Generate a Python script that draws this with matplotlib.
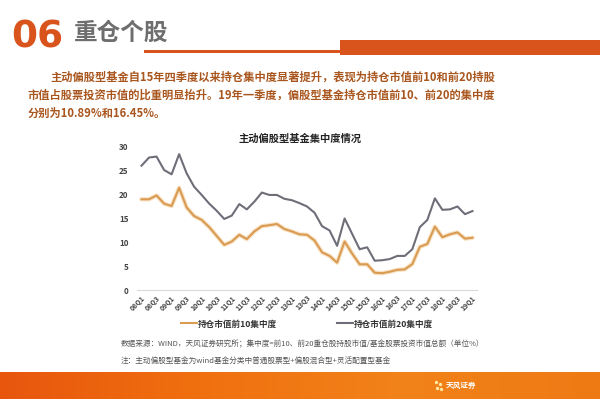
import numpy as np
import matplotlib
matplotlib.use('Agg')
import matplotlib.pyplot as plt
from matplotlib.patches import Rectangle

plt.rcParams['font.family'] = ['Noto Sans CJK SC', 'DejaVu Sans']

# 08Q1 .. 19Q1 quarterly, unit %
top10 = [18.9, 18.9, 19.7, 18.0, 17.5, 21.3, 17.2, 15.4, 14.6, 13.1,
         11.25, 9.4, 10.1, 11.5, 10.6, 12.2, 13.3, 13.5, 13.75, 12.7,
         12.2, 11.6, 11.5, 10.3, 7.85, 7.1, 5.7, 10.1, 7.6, 5.35,
         5.35, 3.6, 3.5, 3.8, 4.2, 4.3, 5.4, 9.0, 9.6, 13.2,
         11.0, 11.6, 12.0, 10.7, 10.89]
top20 = [25.9, 27.6, 27.8, 25.0, 24.1, 28.3, 24.3, 21.5, 19.8, 18.0,
         16.5, 14.8, 15.5, 17.9, 16.8, 18.4, 20.3, 19.8, 19.8, 19.0,
         18.7, 18.1, 17.4, 16.1, 13.3, 12.4, 9.2, 14.9, 11.7, 8.5,
         8.9, 6.1, 6.2, 6.45, 7.1, 7.1, 8.5, 13.1, 14.6, 19.1,
         16.7, 16.8, 17.4, 15.8, 16.45]
tick_labels = ['08Q1', '08Q3', '09Q1', '09Q3', '10Q1', '10Q3', '11Q1', '11Q3',
               '12Q1', '12Q3', '13Q1', '13Q3', '14Q1', '14Q3', '15Q1', '15Q3',
               '16Q1', '16Q3', '17Q1', '17Q3', '18Q1', '18Q3', '19Q1']
name10 = '持仓市值前10集中度'
name20 = '持仓市值前20集中度'

W, H = 600, 399
fig = plt.figure(figsize=(6, 3.99), dpi=100)
fig.patch.set_facecolor('white')

# background layer in pixel coordinates
bg = fig.add_axes([0, 0, 1, 1])
bg.set_xlim(0, W)
bg.set_ylim(H, 0)
bg.axis('off')

orange = '#D9541C'
bg.add_patch(Rectangle((144, 50), 200, 3, color=orange, lw=0))
bg.add_patch(Rectangle((340, 40), 260, 15, color=orange, lw=0))
bg.text(11, 37, '06', fontsize=27, fontweight='heavy', color=orange,
        va='center', ha='left', family='DejaVu Sans')
bg.text(74, 33, '重仓个股', fontsize=17, fontweight='bold', color='#6E6E6E',
        va='center', ha='left')

para_c = '#A9561E'
bg.text(50, 77, '主动偏股型基金自15年四季度以来持仓集中度显著提升，表现为持仓市值前10和前20持股',
        fontsize=8.1, fontweight='bold', color=para_c, va='center', ha='left')
bg.text(28, 95, '市值占股票投资市值的比重明显抬升。19年一季度，偏股型基金持仓市值前10、前20的集中度',
        fontsize=8.1, fontweight='bold', color=para_c, va='center', ha='left')
bg.text(28, 113, '分别为10.89%和16.45%。',
        fontsize=8.1, fontweight='bold', color=para_c, va='center', ha='left')

bg.text(300, 139, '主动偏股型基金集中度情况', fontsize=7.4, fontweight='bold',
        color='#222222', va='center', ha='center')

bg.text(121, 344, '数据来源：WIND，天风证券研究所；集中度=前10、前20重仓股持股市值/基金股票投资市值总额（单位%）',
        fontsize=5.5, color='#555555', va='center', ha='left')
bg.text(121, 361, '注：主动偏股型基金为wind基金分类中普通股票型+偏股混合型+灵活配置型基金',
        fontsize=5.5, color='#555555', va='center', ha='left')

# bottom gradient band
grad = np.linspace(0, 1, 256).reshape(1, -1)
cmap = matplotlib.colors.LinearSegmentedColormap.from_list(
    'band', ['#E8560E', '#F0700F', '#F2821A', '#EE7A14'])
bg.imshow(grad, extent=[0, W, H, 372], aspect='auto', cmap=cmap, zorder=0)
bg.text(446, 385, '天风证券', fontsize=5.5, color='white', fontweight='bold',
        va='center', ha='left')
bg.scatter([436, 440, 437, 441], [382, 384, 388, 389], s=6, color='#FFE9A0', lw=0)

# chart
ax = fig.add_axes([137 / W, (H - 290) / H, 340 / W, 144 / H])
ax.set_facecolor('none')
x = np.arange(len(top10))
ax.plot(x, top10, color='#F3C98F', lw=3.2, alpha=0.5, solid_capstyle='round')
ax.plot(x, top10, color='#D99A52', lw=1.5, label=name10)
ax.plot(x, top20, color='#6E6E78', lw=1.5, label=name20)
ax.set_xlim(-0.6, len(top10) - 0.4)
ax.set_ylim(0, 30)
ax.set_yticks(range(0, 31, 5))
ax.set_xticks(x[::2])
ax.set_xticklabels(tick_labels, rotation=45, ha='right', rotation_mode='anchor')
ax.tick_params(axis='x', length=0, labelsize=5.0, colors='#444444', pad=3)
ax.tick_params(axis='y', length=0, labelsize=5.8, colors='#444444', pad=6)
for lbl in ax.get_yticklabels() + ax.get_xticklabels():
    lbl.set_fontweight('bold')
for s in ['top', 'right', 'left']:
    ax.spines[s].set_visible(False)
ax.spines['bottom'].set_color('#D9D9D9')

leg = ax.legend(loc='upper center', bbox_to_anchor=(0.5, -0.15), ncol=2,
                frameon=False, fontsize=6.2, handlelength=1.8, columnspacing=7,
                handletextpad=0.1)
for t in leg.get_texts():
    t.set_color('#333333')
    t.set_fontweight('bold')

fig.savefig('out.png', dpi=100)
